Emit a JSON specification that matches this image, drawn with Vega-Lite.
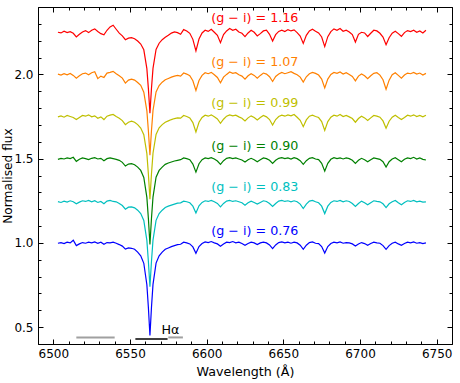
{
  "$schema": "https://vega.github.io/schema/vega-lite/v6.json",
  "width": 414,
  "height": 337,
  "autosize": "none",
  "padding": {"left": 38, "top": 7, "right": 8, "bottom": 39},
  "background": "white",
  "config": {
    "font": "DejaVu Sans",
    "view": {"stroke": "black", "strokeWidth": 1},
    "axis": {"grid": false, "domain": false, "labelColor": "black", "titleColor": "black", "tickColor": "black", "labelFontSize": 12, "titleFontSize": 12.7, "titleFontWeight": "normal", "labelFont": "DejaVu Sans", "titleFont": "DejaVu Sans"}
  },
  "datasets": {
    "spec": [
      {"x":6503,"b":0.998,"c":1.245,"g":1.496,"yl":1.748,"o":2.002,"r":2.250},
      {"x":6505,"b":1.002,"c":1.240,"g":1.502,"yl":1.754,"o":1.996,"r":2.246},
      {"x":6507,"b":0.996,"c":1.248,"g":1.498,"yl":1.746,"o":2.004,"r":2.256},
      {"x":6509,"b":1.004,"c":1.242,"g":1.504,"yl":1.756,"o":1.998,"r":2.248},
      {"x":6511,"b":1.000,"c":1.250,"g":1.500,"yl":1.750,"o":2.006,"r":2.254},
      {"x":6513,"b":1.016,"c":1.244,"g":1.508,"yl":1.744,"o":1.994,"r":2.244},
      {"x":6515,"b":0.984,"c":1.232,"g":1.484,"yl":1.732,"o":1.978,"r":2.222},
      {"x":6517,"b":0.994,"c":1.242,"g":1.496,"yl":1.744,"o":1.992,"r":2.238},
      {"x":6519,"b":1.002,"c":1.250,"g":1.504,"yl":1.756,"o":2.004,"r":2.252},
      {"x":6521,"b":0.998,"c":1.246,"g":1.500,"yl":1.752,"o":2.008,"r":2.260},
      {"x":6523,"b":1.004,"c":1.252,"g":1.494,"yl":1.760,"o":1.998,"r":2.248},
      {"x":6525,"b":1.000,"c":1.244,"g":1.502,"yl":1.748,"o":2.010,"r":2.262},
      {"x":6527,"b":1.006,"c":1.250,"g":1.506,"yl":1.754,"o":2.016,"r":2.270},
      {"x":6529,"b":0.998,"c":1.240,"g":1.498,"yl":1.740,"o":1.975,"r":2.255},
      {"x":6531,"b":1.004,"c":1.246,"g":1.502,"yl":1.748,"o":1.990,"r":2.242},
      {"x":6533,"b":0.992,"c":1.232,"g":1.488,"yl":1.732,"o":1.982,"r":2.235},
      {"x":6535,"b":1.002,"c":1.248,"g":1.500,"yl":1.752,"o":2.008,"r":2.262},
      {"x":6537,"b":1.000,"c":1.252,"g":1.504,"yl":1.758,"o":2.012,"r":2.282},
      {"x":6539,"b":1.004,"c":1.246,"g":1.500,"yl":1.762,"o":2.018,"r":2.292},
      {"x":6541,"b":0.998,"c":1.244,"g":1.496,"yl":1.750,"o":2.004,"r":2.268},
      {"x":6543,"b":0.990,"c":1.234,"g":1.490,"yl":1.740,"o":1.992,"r":2.245},
      {"x":6545,"b":0.981,"c":1.222,"g":1.478,"yl":1.726,"o":1.978,"r":2.229},
      {"x":6547,"b":0.963,"c":1.200,"g":1.456,"yl":1.702,"o":1.948,"r":2.206},
      {"x":6549,"b":0.970,"c":1.212,"g":1.468,"yl":1.716,"o":1.966,"r":2.215},
      {"x":6551,"b":0.968,"c":1.214,"g":1.470,"yl":1.722,"o":1.972,"r":2.218},
      {"x":6553,"b":0.962,"c":1.208,"g":1.464,"yl":1.716,"o":1.966,"r":2.212},
      {"x":6555,"b":0.945,"c":1.194,"g":1.450,"yl":1.702,"o":1.952,"r":2.198},
      {"x":6557,"b":0.923,"c":1.174,"g":1.430,"yl":1.682,"o":1.935,"r":2.180},
      {"x":6559,"b":0.879,"c":1.133,"g":1.388,"yl":1.642,"o":1.894,"r":2.146},
      {"x":6561,"b":0.752,"c":1.015,"g":1.270,"yl":1.530,"o":1.784,"r":2.034},
      {"x":6562,"b":0.615,"c":0.888,"g":1.143,"yl":1.407,"o":1.664,"r":1.914},
      {"x":6563,"b":0.450,"c":0.740,"g":0.990,"yl":1.260,"o":1.520,"r":1.770},
      {"x":6564,"b":0.617,"c":0.890,"g":1.145,"yl":1.409,"o":1.666,"r":1.916},
      {"x":6565,"b":0.754,"c":1.017,"g":1.272,"yl":1.532,"o":1.786,"r":2.036},
      {"x":6567,"b":0.880,"c":1.134,"g":1.390,"yl":1.644,"o":1.896,"r":2.148},
      {"x":6569,"b":0.923,"c":1.174,"g":1.430,"yl":1.683,"o":1.934,"r":2.185},
      {"x":6571,"b":0.945,"c":1.194,"g":1.450,"yl":1.702,"o":1.954,"r":2.206},
      {"x":6573,"b":0.962,"c":1.210,"g":1.466,"yl":1.716,"o":1.968,"r":2.220},
      {"x":6575,"b":0.970,"c":1.218,"g":1.474,"yl":1.724,"o":1.976,"r":2.232},
      {"x":6577,"b":0.978,"c":1.224,"g":1.480,"yl":1.732,"o":1.984,"r":2.245},
      {"x":6579,"b":0.984,"c":1.230,"g":1.486,"yl":1.738,"o":1.990,"r":2.252},
      {"x":6581,"b":0.990,"c":1.236,"g":1.490,"yl":1.742,"o":1.994,"r":2.248},
      {"x":6583,"b":0.992,"c":1.238,"g":1.494,"yl":1.740,"o":1.990,"r":2.238},
      {"x":6585,"b":1.004,"c":1.248,"g":1.504,"yl":1.756,"o":2.008,"r":2.266},
      {"x":6587,"b":1.000,"c":1.244,"g":1.500,"yl":1.750,"o":2.002,"r":2.258},
      {"x":6589,"b":0.994,"c":1.238,"g":1.494,"yl":1.742,"o":1.992,"r":2.244},
      {"x":6591,"b":0.976,"c":1.218,"g":1.468,"yl":1.714,"o":1.962,"r":2.208},
      {"x":6593,"b":0.938,"c":1.178,"g":1.420,"yl":1.658,"o":1.905,"r":2.140},
      {"x":6595,"b":0.978,"c":1.220,"g":1.470,"yl":1.716,"o":1.964,"r":2.210},
      {"x":6597,"b":0.996,"c":1.240,"g":1.494,"yl":1.744,"o":1.994,"r":2.246},
      {"x":6599,"b":1.006,"c":1.250,"g":1.504,"yl":1.758,"o":2.010,"r":2.262},
      {"x":6601,"b":1.002,"c":1.246,"g":1.500,"yl":1.752,"o":2.004,"r":2.255},
      {"x":6603,"b":1.008,"c":1.252,"g":1.506,"yl":1.760,"o":2.012,"r":2.268},
      {"x":6605,"b":1.000,"c":1.244,"g":1.498,"yl":1.748,"o":1.998,"r":2.250},
      {"x":6607,"b":0.994,"c":1.234,"g":1.486,"yl":1.736,"o":1.982,"r":2.232},
      {"x":6609,"b":0.980,"c":1.214,"g":1.466,"yl":1.710,"o":1.950,"r":2.188},
      {"x":6611,"b":0.994,"c":1.234,"g":1.488,"yl":1.734,"o":1.984,"r":2.236},
      {"x":6613,"b":1.004,"c":1.248,"g":1.502,"yl":1.752,"o":2.000,"r":2.258},
      {"x":6615,"b":1.002,"c":1.252,"g":1.506,"yl":1.760,"o":2.014,"r":2.272},
      {"x":6617,"b":1.008,"c":1.246,"g":1.500,"yl":1.754,"o":2.006,"r":2.262},
      {"x":6619,"b":1.000,"c":1.250,"g":1.504,"yl":1.758,"o":2.010,"r":2.268},
      {"x":6621,"b":1.004,"c":1.244,"g":1.498,"yl":1.748,"o":1.998,"r":2.252},
      {"x":6623,"b":0.996,"c":1.238,"g":1.492,"yl":1.740,"o":1.990,"r":2.244},
      {"x":6625,"b":0.986,"c":1.224,"g":1.480,"yl":1.724,"o":1.972,"r":2.224},
      {"x":6627,"b":0.996,"c":1.238,"g":1.494,"yl":1.742,"o":1.992,"r":2.246},
      {"x":6629,"b":1.004,"c":1.248,"g":1.502,"yl":1.754,"o":2.004,"r":2.262},
      {"x":6631,"b":1.000,"c":1.240,"g":1.494,"yl":1.744,"o":1.994,"r":2.250},
      {"x":6633,"b":0.990,"c":1.230,"g":1.482,"yl":1.730,"o":1.978,"r":2.228},
      {"x":6635,"b":1.000,"c":1.240,"g":1.494,"yl":1.744,"o":1.994,"r":2.242},
      {"x":6637,"b":1.004,"c":1.250,"g":1.504,"yl":1.756,"o":2.008,"r":2.258},
      {"x":6639,"b":1.000,"c":1.246,"g":1.500,"yl":1.748,"o":2.002,"r":2.262},
      {"x":6641,"b":0.988,"c":1.234,"g":1.490,"yl":1.732,"o":1.986,"r":2.238},
      {"x":6643,"b":0.966,"c":1.216,"g":1.472,"yl":1.700,"o":1.958,"r":2.198},
      {"x":6645,"b":0.988,"c":1.234,"g":1.490,"yl":1.732,"o":1.988,"r":2.236},
      {"x":6647,"b":1.002,"c":1.248,"g":1.502,"yl":1.750,"o":2.002,"r":2.255},
      {"x":6649,"b":1.006,"c":1.252,"g":1.506,"yl":1.758,"o":2.012,"r":2.262},
      {"x":6651,"b":1.000,"c":1.246,"g":1.500,"yl":1.752,"o":2.004,"r":2.254},
      {"x":6653,"b":1.004,"c":1.250,"g":1.504,"yl":1.760,"o":2.010,"r":2.266},
      {"x":6655,"b":0.998,"c":1.244,"g":1.498,"yl":1.754,"o":2.016,"r":2.258},
      {"x":6657,"b":1.004,"c":1.250,"g":1.506,"yl":1.762,"o":2.006,"r":2.264},
      {"x":6659,"b":1.000,"c":1.244,"g":1.500,"yl":1.746,"o":1.998,"r":2.248},
      {"x":6661,"b":0.986,"c":1.230,"g":1.488,"yl":1.728,"o":1.984,"r":2.228},
      {"x":6663,"b":0.962,"c":1.204,"g":1.466,"yl":1.690,"o":1.954,"r":2.184},
      {"x":6665,"b":0.986,"c":1.230,"g":1.488,"yl":1.730,"o":1.986,"r":2.232},
      {"x":6667,"b":1.002,"c":1.248,"g":1.502,"yl":1.752,"o":2.004,"r":2.258},
      {"x":6669,"b":1.006,"c":1.252,"g":1.506,"yl":1.758,"o":2.012,"r":2.268},
      {"x":6671,"b":0.998,"c":1.244,"g":1.498,"yl":1.750,"o":2.006,"r":2.256},
      {"x":6673,"b":0.996,"c":1.238,"g":1.494,"yl":1.744,"o":1.996,"r":2.246},
      {"x":6675,"b":0.978,"c":1.218,"g":1.472,"yl":1.720,"o":1.972,"r":2.222},
      {"x":6677,"b":0.940,"c":1.174,"g":1.426,"yl":1.668,"o":1.920,"r":2.165},
      {"x":6679,"b":0.978,"c":1.218,"g":1.472,"yl":1.720,"o":1.972,"r":2.224},
      {"x":6681,"b":0.996,"c":1.240,"g":1.496,"yl":1.746,"o":2.000,"r":2.254},
      {"x":6683,"b":1.004,"c":1.250,"g":1.506,"yl":1.758,"o":2.012,"r":2.270},
      {"x":6685,"b":1.000,"c":1.246,"g":1.500,"yl":1.752,"o":2.006,"r":2.262},
      {"x":6687,"b":1.006,"c":1.252,"g":1.504,"yl":1.762,"o":2.014,"r":2.272},
      {"x":6689,"b":0.998,"c":1.244,"g":1.498,"yl":1.750,"o":2.002,"r":2.256},
      {"x":6691,"b":1.002,"c":1.250,"g":1.504,"yl":1.756,"o":2.010,"r":2.262},
      {"x":6693,"b":1.000,"c":1.246,"g":1.500,"yl":1.748,"o":2.000,"r":2.252},
      {"x":6695,"b":0.994,"c":1.234,"g":1.490,"yl":1.738,"o":1.988,"r":2.236},
      {"x":6697,"b":0.982,"c":1.216,"g":1.472,"yl":1.716,"o":1.962,"r":2.192},
      {"x":6699,"b":0.994,"c":1.234,"g":1.490,"yl":1.738,"o":1.990,"r":2.238},
      {"x":6701,"b":1.002,"c":1.248,"g":1.502,"yl":1.752,"o":2.002,"r":2.250},
      {"x":6703,"b":0.996,"c":1.238,"g":1.494,"yl":1.742,"o":1.992,"r":2.246},
      {"x":6705,"b":0.986,"c":1.226,"g":1.482,"yl":1.726,"o":1.974,"r":2.225},
      {"x":6707,"b":0.996,"c":1.238,"g":1.494,"yl":1.742,"o":1.992,"r":2.244},
      {"x":6709,"b":1.004,"c":1.250,"g":1.504,"yl":1.756,"o":2.006,"r":2.262},
      {"x":6711,"b":1.000,"c":1.246,"g":1.500,"yl":1.752,"o":2.010,"r":2.258},
      {"x":6713,"b":0.998,"c":1.244,"g":1.496,"yl":1.746,"o":1.996,"r":2.244},
      {"x":6715,"b":0.984,"c":1.232,"g":1.482,"yl":1.724,"o":1.968,"r":2.222},
      {"x":6717,"b":0.962,"c":1.210,"g":1.450,"yl":1.680,"o":1.912,"r":2.176},
      {"x":6719,"b":0.984,"c":1.232,"g":1.482,"yl":1.722,"o":1.966,"r":2.218},
      {"x":6721,"b":0.998,"c":1.244,"g":1.498,"yl":1.746,"o":1.998,"r":2.245},
      {"x":6723,"b":1.004,"c":1.252,"g":1.506,"yl":1.758,"o":2.010,"r":2.256},
      {"x":6725,"b":0.994,"c":1.238,"g":1.494,"yl":1.744,"o":1.994,"r":2.242},
      {"x":6727,"b":0.986,"c":1.226,"g":1.482,"yl":1.732,"o":1.978,"r":2.226},
      {"x":6729,"b":0.996,"c":1.240,"g":1.496,"yl":1.744,"o":1.996,"r":2.248},
      {"x":6731,"b":1.004,"c":1.250,"g":1.504,"yl":1.758,"o":2.008,"r":2.260},
      {"x":6733,"b":1.000,"c":1.246,"g":1.500,"yl":1.752,"o":2.004,"r":2.254},
      {"x":6735,"b":1.006,"c":1.252,"g":1.508,"yl":1.760,"o":2.012,"r":2.262},
      {"x":6737,"b":0.998,"c":1.244,"g":1.498,"yl":1.750,"o":2.002,"r":2.250},
      {"x":6739,"b":1.002,"c":1.248,"g":1.504,"yl":1.756,"o":2.008,"r":2.258},
      {"x":6741,"b":0.996,"c":1.242,"g":1.496,"yl":1.748,"o":1.996,"r":2.246},
      {"x":6743,"b":1.000,"c":1.244,"g":1.492,"yl":1.758,"o":2.006,"r":2.262}
    ],
    "labels": [
      {"t":"(g − i) = 1.16","x":6603,"y":2.336,"s":"r"},
      {"t":"(g − i) = 1.07","x":6603,"y":2.075,"s":"o"},
      {"t":"(g − i) = 0.99","x":6603,"y":1.832,"s":"yl"},
      {"t":"(g − i) = 0.90","x":6603,"y":1.577,"s":"g"},
      {"t":"(g − i) = 0.83","x":6603,"y":1.334,"s":"c"},
      {"t":"(g − i) = 0.76","x":6603,"y":1.073,"s":"b"}
    ],
    "gray": [
      {"x":6515,"x2":6540,"y":0.439},
      {"x":6575,"x2":6584.5,"y":0.439}
    ],
    "black": [
      {"x":6553.5,"x2":6574.5,"y":0.430}
    ],
    "ha": [
      {"t":"Hα","x":6570.5,"y":0.486}
    ]
  },
  "resolve": {"axis": {"x": "independent", "y": "independent"}},
  "layer": [
    {
      "data": {"name": "spec"},
      "transform": [{"fold": ["b","c","g","yl","o","r"], "as": ["s","v"]}],
      "mark": {"type": "line", "strokeWidth": 1.2},
      "encoding": {
        "x": {"field": "x", "type": "quantitative", "scale": {"domain": [6490, 6760], "nice": false, "zero": false},
          "axis": {"orient": "bottom", "ticks": false, "values": [6500,6550,6600,6650,6700,6750], "format": "d", "labelPadding": 4, "title": "Wavelength (Å)", "titlePadding": 6, "labelFlush": false}},
        "y": {"field": "v", "type": "quantitative", "scale": {"domain": [0.4, 2.4], "nice": false, "zero": false},
          "axis": {"orient": "left", "ticks": false, "values": [0.5,1.0,1.5,2.0], "format": ".1f", "labelPadding": 5, "title": "Normalised flux", "titleFontSize": 12.2, "titlePadding": -1, "labelFlush": false}},
        "color": {"field": "s", "type": "nominal", "legend": null,
          "scale": {"domain": ["b","c","g","yl","o","r"], "range": ["#0000ff","#00bfbf","#008000","#bfbf00","#ff8000","#ff0000"]}},
        "detail": {"field": "s"}
      }
    },
    {
      "data": {"name": "labels"},
      "mark": {"type": "text", "align": "left", "baseline": "middle", "fontSize": 12.7},
      "encoding": {
        "x": {"field": "x", "type": "quantitative", "scale": {"domain": [6490, 6760], "nice": false, "zero": false},
          "axis": {"orient": "bottom", "labels": false, "title": null, "tickSize": -5, "values": [6500,6550,6600,6650,6700,6750]}},
        "y": {"field": "y", "type": "quantitative", "scale": {"domain": [0.4, 2.4], "nice": false, "zero": false},
          "axis": {"orient": "left", "labels": false, "title": null, "tickSize": -5, "values": [0.5,1.0,1.5,2.0]}},
        "text": {"field": "t"},
        "color": {"field": "s", "type": "nominal", "legend": null,
          "scale": {"domain": ["b","c","g","yl","o","r"], "range": ["#0000ff","#00bfbf","#008000","#bfbf00","#ff8000","#ff0000"]}}
      }
    },
    {
      "data": {"name": "gray"},
      "mark": {"type": "rule", "color": "#a0a0a0", "strokeWidth": 2},
      "encoding": {
        "x": {"field": "x", "type": "quantitative", "scale": {"domain": [6490, 6760], "nice": false, "zero": false},
          "axis": {"orient": "bottom", "labels": false, "title": null, "tickSize": -3, "values": [6490,6500,6510,6520,6530,6540,6550,6560,6570,6580,6590,6600,6610,6620,6630,6640,6650,6660,6670,6680,6690,6700,6710,6720,6730,6740,6750,6760]}},
        "x2": {"field": "x2"},
        "y": {"field": "y", "type": "quantitative", "scale": {"domain": [0.4, 2.4], "nice": false, "zero": false},
          "axis": {"orient": "left", "labels": false, "title": null, "tickSize": -3, "values": [0.4,0.5,0.6,0.7,0.8,0.9,1.0,1.1,1.2,1.3,1.4,1.5,1.6,1.7,1.8,1.9,2.0,2.1,2.2,2.3,2.4]}}
      }
    },
    {
      "data": {"name": "black"},
      "mark": {"type": "rule", "color": "black", "strokeWidth": 1.5},
      "encoding": {
        "x": {"field": "x", "type": "quantitative", "scale": {"domain": [6490, 6760], "nice": false, "zero": false},
          "axis": {"orient": "top", "labels": false, "title": null, "tickSize": -5, "values": [6500,6550,6600,6650,6700,6750]}},
        "x2": {"field": "x2"},
        "y": {"field": "y", "type": "quantitative", "scale": {"domain": [0.4, 2.4], "nice": false, "zero": false},
          "axis": {"orient": "right", "labels": false, "title": null, "tickSize": -5, "values": [0.5,1.0,1.5,2.0]}}
      }
    },
    {
      "data": {"name": "ha"},
      "mark": {"type": "text", "align": "left", "baseline": "middle", "fontSize": 12.7, "color": "black"},
      "encoding": {
        "x": {"field": "x", "type": "quantitative", "scale": {"domain": [6490, 6760], "nice": false, "zero": false},
          "axis": {"orient": "top", "labels": false, "title": null, "tickSize": -3, "values": [6490,6500,6510,6520,6530,6540,6550,6560,6570,6580,6590,6600,6610,6620,6630,6640,6650,6660,6670,6680,6690,6700,6710,6720,6730,6740,6750,6760]}},
        "y": {"field": "y", "type": "quantitative", "scale": {"domain": [0.4, 2.4], "nice": false, "zero": false},
          "axis": {"orient": "right", "labels": false, "title": null, "tickSize": -3, "values": [0.4,0.5,0.6,0.7,0.8,0.9,1.0,1.1,1.2,1.3,1.4,1.5,1.6,1.7,1.8,1.9,2.0,2.1,2.2,2.3,2.4]}},
        "text": {"field": "t"}
      }
    }
  ]
}
